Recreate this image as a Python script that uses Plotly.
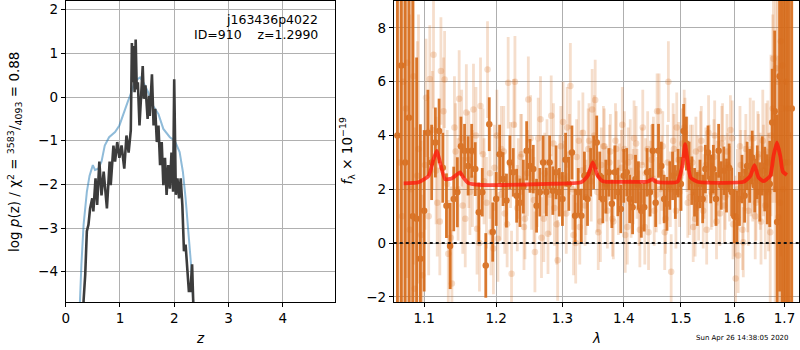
import plotly.graph_objects as go
import math

# ---- Left panel: redshift PDF ----
pz_z = [0.31, 0.33, 0.36, 0.39, 0.42, 0.45, 0.49, 0.51, 0.55, 0.58, 0.62, 0.66, 0.70, 0.76, 0.81, 0.83,
        0.88, 0.91, 0.95, 0.99, 1.03, 1.08, 1.12, 1.16, 1.20, 1.22, 1.23, 1.25, 1.27, 1.29, 1.31, 1.33,
        1.36, 1.39, 1.42, 1.44, 1.47, 1.51, 1.54, 1.55, 1.59, 1.62, 1.65, 1.68, 1.71, 1.74, 1.77, 1.80,
        1.83, 1.86, 1.89, 1.92, 1.95, 1.98, 2.00, 2.03, 2.06, 2.09, 2.12, 2.15, 2.18, 2.21, 2.24, 2.27,
        2.30, 2.33, 2.35, 2.37]
pz_logp = [-6.0, -4.66, -4.07, -3.07, -2.92, -2.55, -2.32, -2.62, -1.86, -2.47, -1.48, -2.25, -1.71, -2.55, -1.48, -2.02,
           -1.11, -1.48, -1.03, -1.39, -1.11, -1.64, -0.88, -1.27, -0.76, 1.24, 0.34, 1.17, 0.11, 1.32, 0.18, 0.34,
           -0.65, 0.18, 0.71, -0.04, 0.27, -0.50, 0.03, -0.43, 0.52, -0.65, -0.27, -1.03, -0.65, -1.56, -1.03, -2.02,
           -1.39, -2.24, -1.56, -2.10, -1.27, -2.17, 0.41, -2.24, -1.86, -2.32, -1.86, -2.47, -3.53, -3.38, -3.98, -4.44,
           -4.44, -3.83, -4.66, -6.0]

prior_z = [0.22, 0.257, 0.29, 0.33, 0.39, 0.44, 0.50, 0.54, 0.60, 0.66, 0.72, 0.80, 0.91, 0.99, 1.07, 1.14,
           1.21, 1.28, 1.37, 1.43, 1.52, 1.61, 1.71, 1.80, 1.92, 2.01, 2.10, 2.16, 2.21, 2.26, 2.31, 2.35, 2.40]
prior_logp = [-6.0, -4.68, -3.83, -2.92, -2.17, -1.80, -1.56, -1.67, -1.64, -1.48, -1.11, -0.92, -0.80, -0.65, -0.35, -0.12,
              0.11, 0.37, 0.45, 0.34, 0.11, -0.20, -0.39, -0.73, -0.92, -1.00, -1.26, -1.71, -2.32, -3.07, -3.83, -4.68, -6.0]

# ---- Right panel: spectrum ----
dark_wave = [1.065, 1.070, 1.075, 1.080, 1.085, 1.090, 1.095, 1.100, 1.105, 1.110, 1.115, 1.120, 1.125, 1.130, 1.135,
             1.140, 1.145, 1.150, 1.155, 1.160, 1.165, 1.170, 1.175, 1.180, 1.185, 1.190, 1.195, 1.200, 1.205, 1.210,
             1.215, 1.220, 1.225, 1.230, 1.235, 1.240, 1.245, 1.250, 1.255, 1.260, 1.265, 1.270, 1.275, 1.280, 1.285,
             1.290, 1.295, 1.300, 1.305, 1.310, 1.315, 1.320, 1.325, 1.330, 1.335, 1.340, 1.345, 1.350, 1.355, 1.360,
             1.365, 1.370, 1.375, 1.380, 1.385, 1.390, 1.395, 1.400, 1.405, 1.410, 1.415, 1.420, 1.425, 1.430, 1.435,
             1.440, 1.445, 1.450, 1.455, 1.460, 1.465, 1.470, 1.475, 1.480, 1.485, 1.490, 1.495, 1.500, 1.505, 1.510,
             1.515, 1.520, 1.525, 1.530, 1.535, 1.540, 1.545, 1.550, 1.555, 1.560, 1.565, 1.570, 1.575, 1.580, 1.585,
             1.590, 1.595, 1.600, 1.605, 1.610, 1.615, 1.620, 1.625, 1.630, 1.635, 1.640, 1.645, 1.650, 1.655, 1.660,
             1.665, 1.670, 1.675, 1.680, 1.685, 1.690, 1.695, 1.700, 1.705, 1.710, 1.715]
dark_flux = [4.0, 6.6, 3.0, 4.66, 1.0, 0.9, -0.58, 1.2, 4.1, 3.0, 3.74, 4.17, 2.8, 1.39, -0.11,
             1.64, 1.89, 3.6, 3.43, 2.87, 3.43, 2.75, 1.15, 1.89, -0.83, 4.42, 0.41, 1.64, 3.3, 2.38,
             1.58, 3.0, 2.63, 1.76, 1.5, 2.1, 3.43, 2.87, 2.75, 1.39, 1.89, 3.0, 1.9, 3.0, 1.95,
             2.63, 1.89, 1.64, 3.1, 2.2, 3.37, 1.02, 1.89, 1.02, 2.5, 1.64, 2.63, 3.0, 3.74, 2.5,
             1.64, 2.1, 2.63, 1.46, 2.63, 1.9, 1.27, 2.5, 2.63, 1.64, 1.33, 2.38, 2.14, 1.2, 1.33,
             2.63, 1.89, 3.43, 1.5, 3.43, 2.87, 1.64, 1.46, 2.14, 2.5, 1.9, 2.6, 2.2, 4.17, 3.7,
             2.87, 2.32, 1.89, 1.64, 2.2, 1.64, 2.75, 3.37, 2.38, 2.75, 1.64, 3.43, 2.14, 2.69, 2.14,
             2.8, 1.9, 1.0, 0.96, 1.64, 2.38, 1.76, 2.87, 2.5, 3.18, 2.14, 2.63, 1.9, 2.87, 2.38,
             2.0, 2.2, 4.48, 4.9, 0.78, 6.2, 5.0, 3.0, 6.0, 4.0, 5.0]
dark_err = [15, 12, 10, 9, 8, 6, 5, 3, 1.6, 1.4, 1.3, 1.2, 1.3, 1.2, 1.6,
            1.2, 1.3, 1.1, 1.0, 1.1, 1.0, 1.0, 1.1, 0.9, 1.2, 1.0, 1.1, 1.0, 1.1, 1.0,
            1.0, 1.0, 0.9, 1.0, 0.9, 1.0, 1.1, 1.0, 0.9, 1.0, 0.9, 1.0, 0.9, 1.0, 0.9,
            1.0, 0.9, 1.0, 1.0, 1.0, 1.0, 1.0, 0.9, 1.0, 0.9, 1.0, 0.9, 1.0, 1.0, 0.9,
            0.9, 1.0, 0.9, 0.9, 1.0, 0.9, 0.9, 1.0, 0.9, 0.9, 1.0, 0.9, 0.9, 1.0, 0.9,
            0.9, 0.9, 1.0, 0.9, 1.0, 0.9, 0.9, 1.0, 0.9, 0.9, 1.0, 0.9, 1.0, 1.0, 1.0,
            0.9, 0.9, 0.9, 1.0, 0.9, 0.9, 0.9, 1.0, 0.9, 0.9, 1.0, 1.0, 0.9, 0.9, 1.0,
            0.9, 0.9, 1.0, 1.0, 1.0, 0.9, 1.0, 0.9, 1.0, 1.0, 1.0, 1.0, 1.1, 1.1, 1.2,
            1.3, 1.6, 2.0, 3.0, 4.0, 8.0, 12.0, 15.0, 15.0, 15.0, 20.0]

light_wave = [1.0675, 1.0725, 1.0775, 1.0825, 1.0875, 1.0925, 1.0975, 1.1025, 1.1075, 1.1125, 1.1175, 1.1225, 1.1275,
              1.1325, 1.1375, 1.1425, 1.1475, 1.1525, 1.1575, 1.1625, 1.1675, 1.1725, 1.1775, 1.1825, 1.1875, 1.1925,
              1.1975, 1.2025, 1.2075, 1.2125, 1.2175, 1.2225, 1.2275, 1.2325, 1.2375, 1.2425, 1.2475, 1.2525, 1.2575,
              1.2625, 1.2675, 1.2725, 1.2775, 1.2825, 1.2875, 1.2925, 1.2975, 1.3025, 1.3075, 1.3125, 1.3175, 1.3225,
              1.3275, 1.3325, 1.3375, 1.3425, 1.3475, 1.3525, 1.3575, 1.3625, 1.3675, 1.3725, 1.3775, 1.3825, 1.3875,
              1.3925, 1.3975, 1.4025, 1.4075, 1.4125, 1.4175, 1.4225, 1.4275, 1.4325, 1.4375, 1.4425, 1.4475, 1.4525,
              1.4575, 1.4625, 1.4675, 1.4725, 1.4775, 1.4825, 1.4875, 1.4925, 1.4975, 1.5025, 1.5075, 1.5125, 1.5175,
              1.5225, 1.5275, 1.5325, 1.5375, 1.5425, 1.5475, 1.5525, 1.5575, 1.5625, 1.5675, 1.5725, 1.5775, 1.5825,
              1.5875, 1.5925, 1.5975, 1.6025, 1.6075, 1.6125, 1.6175, 1.6225, 1.6275, 1.6325, 1.6375, 1.6425, 1.6475,
              1.6525, 1.6575, 1.6625, 1.6675, 1.6725, 1.6775, 1.6825, 1.6875, 1.6925, 1.6975, 1.7025, 1.7075]
light_flux = [3.0, 6.0, 6.7, 2.0, -1.7, 3.5, -1.2, 5.4, 6.1, 7.0, 1.5, 6.4, 6.08,
              -0.4, -1.5, 3.4, 5.37, 1.4, 4.85, 1.9, 4.97, 0.53, 5.1, 2.3, 6.45, 0.4,
              2.8, 0.16, 3.5, 1.1, 5.96, -1.14, 6.0, 2.4, 3.3, 0.9, 5.34, 2.0, -0.33,
              3.9, 0.2, 2.6, 0.35, 4.73, 1.3, -0.64, 3.6, 2.4, 4.3, 5.84, 0.3, 3.2,
              0.6, 4.1, 1.7, 3.8, 4.97, 5.32, 0.4, 2.9, 3.6, 1.2, 3.4, 0.8, 3.5,
              2.4, 4.4, 0.3, 3.0, 1.5, 3.9, 2.2, 0.5, 4.3, 2.6, 0.4, 3.1, 1.2,
              4.9, 2.0, 3.6, 0.9, 6.0, -1.07, 3.5, 4.3, 1.9, 3.7, 4.1, 1.5, 3.1,
              0.6, 3.4, 1.4, 3.8, 2.1, 0.5, 3.2, 1.8, 4.0, 2.6, 1.1, 3.9, 1.7,
              2.9, 4.2, 0.7, -1.32, -0.46, 2.9, 0.03, 3.5, 1.2, 2.3, 3.9, 1.5, 3.3,
              0.8, 2.7, 3.4, 1.9, 4.0, 6.85, 6.5, 0.96, 7.5, 2.0, 6.0, 3.0]
light_err = [12, 9, 8, 8, 6, 5, 3, 2.2, 2.0, 2.0, 2.0, 2.0, 1.8,
             2.0, 2.0, 1.8, 1.8, 1.8, 1.8, 1.6, 1.7, 1.7, 1.8, 1.6, 1.8, 1.6,
             1.6, 1.6, 1.6, 1.5, 1.7, 1.6, 1.7, 1.5, 1.5, 1.5, 1.6, 1.5, 1.5,
             1.5, 1.5, 1.5, 1.5, 1.5, 1.4, 1.5, 1.5, 1.4, 1.5, 1.6, 1.5, 1.4,
             1.4, 1.5, 1.4, 1.4, 1.5, 1.5, 1.4, 1.4, 1.4, 1.4, 1.4, 1.4, 1.4,
             1.3, 1.4, 1.4, 1.3, 1.3, 1.4, 1.3, 1.4, 1.4, 1.3, 1.4, 1.3, 1.3,
             1.4, 1.3, 1.3, 1.3, 1.5, 1.4, 1.3, 1.3, 1.3, 1.3, 1.3, 1.3, 1.3,
             1.3, 1.3, 1.3, 1.3, 1.2, 1.3, 1.2, 1.2, 1.3, 1.2, 1.2, 1.3, 1.2,
             1.2, 1.3, 1.3, 1.4, 1.4, 1.3, 1.3, 1.3, 1.3, 1.3, 1.4, 1.4, 1.5,
             1.6, 1.7, 1.8, 2.2, 3.0, 4.0, 5.0, 6.0, 8.0, 10.0, 12.0, 14.0]

light2_wave = [1.071, 1.076, 1.081, 1.086, 1.091, 1.096, 1.101, 1.106, 1.111, 1.116,
               1.121, 1.126, 1.131, 1.136, 1.141, 1.146, 1.151, 1.156, 1.161, 1.166,
               1.171, 1.176, 1.181, 1.186, 1.191, 1.196, 1.201, 1.206, 1.211, 1.216,
               1.221, 1.226, 1.231, 1.236, 1.241, 1.246, 1.251, 1.256, 1.261, 1.266,
               1.271, 1.276, 1.281, 1.286, 1.291, 1.296, 1.301, 1.306, 1.311, 1.316,
               1.321, 1.326, 1.331, 1.336, 1.341, 1.346, 1.351, 1.356, 1.361, 1.366,
               1.371, 1.376, 1.381, 1.386, 1.391, 1.396, 1.401, 1.406, 1.411, 1.416,
               1.421, 1.426, 1.431, 1.436, 1.441, 1.446, 1.451, 1.456, 1.461, 1.466,
               1.471, 1.476, 1.481, 1.486, 1.491, 1.496, 1.501, 1.506, 1.511, 1.516,
               1.521, 1.526, 1.531, 1.536, 1.541, 1.546, 1.551, 1.556, 1.561, 1.566,
               1.571, 1.576, 1.581, 1.586, 1.591, 1.596, 1.601, 1.606, 1.611, 1.616,
               1.621, 1.626, 1.631, 1.636, 1.641, 1.646, 1.651, 1.656, 1.661, 1.666,
               1.671, 1.676, 1.681, 1.686, 1.691, 1.696, 1.701, 1.706]
light2_flux = [1.0, 5.0, 0.5, 6.2, 2.5, 0.3, 2.9, 1.0, 4.2, 2.7,
               0.8, 4.9, 2.2, 0.2, 4.3, 2.0, 3.9, 0.9, 3.1, 2.4,
               4.0, 0.0, 3.3, 1.5, 2.6, -0.2, 4.0, 1.8, 3.4, 0.7,
               2.9, 4.4, 1.3, 3.2, 0.6, 2.6, 3.9, 1.6, 2.2, 4.6,
               0.9, 3.0, 1.8, 3.7, 0.7, 2.5, 4.5, 1.1, 3.3, 2.0,
               0.0, 3.8, 2.7, 1.4, 3.5, 2.3, 4.0, 1.9, 0.8, 3.6,
               2.2, 3.0, 0.9, 3.8, 1.7, 2.8, 3.5, 0.6, 3.2, 2.1,
               3.7, 1.3, 2.9, 0.6, 3.5, 2.4, 3.3, 1.8, 4.9, 2.6,
               0.4, 3.0, 2.0, 3.8, 1.2, 3.1, 2.6, 4.3, 3.3, 1.7,
               3.0, 0.9, 2.6, 3.5, 1.2, 2.9, 4.1, 1.9, 3.2, 0.8,
               2.4, 3.7, 1.4, 3.4, 2.2, 3.9, 1.0, 2.0, 3.6, 0.5,
               2.7, 1.9, 3.9, 2.4, 1.0, 3.2, 2.3, 3.8, 1.4, 3.0,
               0.4, 5.0, 2.0, 6.0, 1.5, 6.6, 3.0, 5.0]
light2_err = [10, 9, 8, 7, 5, 3.5, 2.4, 2.2, 2.2, 2.0,
              2.0, 2.0, 2.0, 1.9, 1.9, 1.9, 1.8, 1.8, 1.8, 1.8,
              1.8, 1.8, 1.7, 1.7, 1.7, 1.7, 1.7, 1.7, 1.7, 1.6,
              1.6, 1.7, 1.6, 1.6, 1.6, 1.6, 1.6, 1.6, 1.6, 1.6,
              1.6, 1.6, 1.5, 1.5, 1.5, 1.5, 1.5, 1.5, 1.5, 1.5,
              1.5, 1.5, 1.5, 1.5, 1.5, 1.5, 1.5, 1.5, 1.5, 1.5,
              1.4, 1.4, 1.4, 1.4, 1.4, 1.4, 1.4, 1.4, 1.4, 1.4,
              1.4, 1.4, 1.4, 1.4, 1.4, 1.4, 1.4, 1.4, 1.4, 1.4,
              1.4, 1.4, 1.4, 1.4, 1.4, 1.4, 1.4, 1.4, 1.4, 1.4,
              1.4, 1.4, 1.4, 1.4, 1.4, 1.4, 1.4, 1.4, 1.4, 1.4,
              1.4, 1.4, 1.4, 1.4, 1.4, 1.4, 1.5, 1.5, 1.5, 1.5,
              1.5, 1.5, 1.5, 1.6, 1.6, 1.7, 1.8, 1.9, 2.0, 2.3,
              2.8, 3.5, 5.0, 6.0, 8.0, 10.0, 12.0, 14.0]

model_wave = [1.0731, 1.0926, 1.1060, 1.1125, 1.1170, 1.1213, 1.1281, 1.1372, 1.1487, 1.1532, 1.1604, 1.1791,
              1.2125, 1.2776, 1.3297, 1.3404, 1.3485, 1.3566, 1.3648, 1.4122, 1.4409, 1.4494, 1.4550, 1.4939,
              1.5029, 1.5077, 1.5118, 1.5176, 1.5304, 1.6183, 1.6314, 1.6393, 1.6475, 1.6577, 1.6711, 1.6777,
              1.6846, 1.6912, 1.6966, 1.7048]
model_flux = [2.22, 2.26, 2.50, 3.12, 3.43, 3.00, 2.38, 2.40, 2.63, 2.44, 2.23, 2.16,
              2.16, 2.20, 2.26, 2.50, 3.00, 2.50, 2.30, 2.28, 2.28, 2.38, 2.28, 2.28,
              2.90, 3.68, 3.12, 2.44, 2.28, 2.28, 2.50, 2.90, 2.44, 2.30, 2.50, 3.25,
              3.74, 3.25, 2.66, 2.53]

x_ticks_right = [1.1, 1.2, 1.3, 1.4, 1.5, 1.6, 1.7]
y_ticks_right = [-2, 0, 2, 4, 6, 8]
x_ticks_left = [0, 1, 2, 3, 4]
y_ticks_left = [-4, -3, -2, -1, 0, 1, 2]

FONT = "DejaVu Sans"
ORANGE = "rgb(214,106,24)"
ORANGE_LIGHT = "rgba(214,106,24,0.22)"
W, H = 800, 350

fig = go.Figure()

fig.add_trace(go.Scatter(x=prior_z, y=prior_logp, mode="lines",
                         line=dict(color="rgba(31,119,180,0.5)", width=2),
                         xaxis="x", yaxis="y", showlegend=False))
fig.add_trace(go.Scatter(x=pz_z, y=pz_logp, mode="lines",
                         line=dict(color="#3c3c3c", width=2.6),
                         xaxis="x", yaxis="y", showlegend=False))

for wv, fl, er in [(light_wave, light_flux, light_err), (light2_wave, light2_flux, light2_err)]:
    fig.add_trace(go.Scatter(x=wv, y=fl, mode="markers",
                             marker=dict(color=ORANGE_LIGHT, size=6.5, line=dict(width=0)),
                             error_y=dict(type="data", array=er, visible=True,
                                          color=ORANGE_LIGHT, thickness=2.8, width=0),
                             xaxis="x2", yaxis="y2", showlegend=False))
fig.add_trace(go.Scatter(x=dark_wave, y=dark_flux, mode="markers",
                         marker=dict(color=ORANGE, size=6.5, line=dict(width=0)),
                         error_y=dict(type="data", array=dark_err, visible=True,
                                      color=ORANGE, thickness=2.8, width=0),
                         opacity=0.9,
                         xaxis="x2", yaxis="y2", showlegend=False))
fig.add_trace(go.Scatter(x=model_wave, y=model_flux, mode="lines",
                         line=dict(color="rgba(255,20,10,0.75)", width=3.8, shape="spline", smoothing=0.5),
                         xaxis="x2", yaxis="y2", showlegend=False))

# dotted zero line
fig.add_shape(type="line", xref="x2 domain", yref="y2", x0=0, x1=1, y0=0, y1=0,
              line=dict(color="#111111", width=2, dash="dot"), layer="above")

axis_common = dict(showline=True, linecolor="black", linewidth=1, mirror=True,
                   ticks="outside", ticklen=4, tickcolor="black", tickwidth=1,
                   showgrid=True, gridcolor="#b0b0b0", gridwidth=1, zeroline=False,
                   tickfont=dict(family=FONT, size=13.5, color="black"))

fig.update_layout(
    width=W, height=H, margin=dict(l=0, r=0, t=0, b=0),
    paper_bgcolor="white", plot_bgcolor="white",
    font=dict(family=FONT, color="black"),
    xaxis=dict(domain=[62 / W, 333 / W], range=[0, 4.97], tickvals=x_ticks_left,
               anchor="y", **axis_common),
    yaxis=dict(domain=[1 - 304 / H, 1 - 1 / H], range=[-4.7, 2.2], tickvals=y_ticks_left,
               anchor="x", **axis_common),
    xaxis2=dict(domain=[391.7 / W, 799 / W], type="log",
                range=[math.log10(1.0603), math.log10(1.7301)],
                tickvals=x_ticks_right, ticktext=[f"{v:.1f}" for v in x_ticks_right],
                anchor="y2", **axis_common),
    yaxis2=dict(domain=[1 - 304 / H, 1 - 1 / H], range=[-2.2, 9.0], tickvals=y_ticks_right,
                anchor="x2", **axis_common),
)

ann = []
ann.append(dict(text="j163436p4022", x=318 / W, y=1 - 20 / H, xref="paper", yref="paper",
                xanchor="right", yanchor="middle", showarrow=False,
                font=dict(family=FONT, size=12.5, color="black")))
ann.append(dict(text="ID=910    z=1.2990", x=318 / W, y=1 - 35 / H, xref="paper", yref="paper",
                xanchor="right", yanchor="middle", showarrow=False,
                font=dict(family=FONT, size=12.5, color="black")))
ann.append(dict(text="<i>z</i>", x=197 / W, y=1 - 340 / H, xref="paper", yref="paper",
                xanchor="center", yanchor="middle", showarrow=False,
                font=dict(family=FONT, size=13.5, color="black")))
ann.append(dict(text="<i>λ</i>", x=595 / W, y=1 - 340 / H, xref="paper", yref="paper",
                xanchor="center", yanchor="middle", showarrow=False,
                font=dict(family=FONT, size=13.5, color="black")))
ann.append(dict(text="log <i>p</i>(z) / χ<sup>2</sup> = <sup>3583</sup>/<sub>4093</sub> = 0.88",
                x=11 / W, y=1 - 152 / H, xref="paper", yref="paper", textangle=-90,
                xanchor="center", yanchor="middle", showarrow=False,
                font=dict(family=FONT, size=13.5, color="black")))
ann.append(dict(text="<i>f</i><sub>λ</sub> × 10<sup>−19</sup>",
                x=345 / W, y=1 - 152 / H, xref="paper", yref="paper", textangle=-90,
                xanchor="center", yanchor="middle", showarrow=False,
                font=dict(family=FONT, size=13.5, color="black")))
ann.append(dict(text="Sun Apr 26 14:38:05 2020", x=742 / W, y=1 - 340 / H, xref="paper", yref="paper",
                xanchor="center", yanchor="middle", showarrow=False,
                font=dict(family=FONT, size=7, color="black")))
fig.update_layout(annotations=ann)

fig.write_html("out.html", config={"displayModeBar": False},
               post_script="document.body.style.margin='0px';document.body.style.overflow='hidden';")
